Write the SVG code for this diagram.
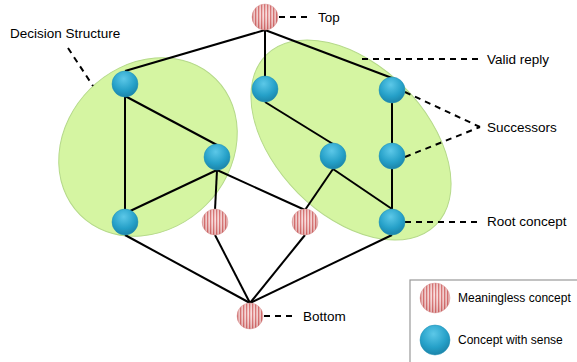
<svg xmlns="http://www.w3.org/2000/svg" width="577" height="362" viewBox="0 0 577 362">
<defs>
<radialGradient id="blue" cx="0.45" cy="0.3" r="0.75">
<stop offset="0" stop-color="#5cc8e8"/>
<stop offset="0.6" stop-color="#25a0c8"/>
<stop offset="1" stop-color="#1a7fa3"/>
</radialGradient>
<pattern id="stripes" patternUnits="userSpaceOnUse" width="3" height="4">
<rect width="3" height="4" fill="#f9dada"/>
<rect width="1.3" height="4" fill="#d86a6a"/>
</pattern>
<radialGradient id="pinkShade" cx="0.5" cy="0.4" r="0.6">
<stop offset="0" stop-color="#ffffff" stop-opacity="0.15"/>
<stop offset="1" stop-color="#a04040" stop-opacity="0.25"/>
</radialGradient>
</defs>
<style>
.ell{fill:#d5f5a2;stroke:#b5d98a;stroke-width:1}
.edge{stroke:#000;stroke-width:2;fill:none}
.dash{stroke:#000;stroke-width:2;stroke-dasharray:6,5;fill:none}
.cs{fill:url(#blue);stroke:#1f8fb5;stroke-width:0.5}
.ml{fill:url(#stripes);stroke:#e0a0a0;stroke-width:0.5}
.mlsh{fill:url(#pinkShade)}
.lbl{font-family:"Liberation Sans",Arial,sans-serif;font-size:13.5px;fill:#000}
.leg{font-family:"Liberation Sans",Arial,sans-serif;font-size:12px;fill:#000}
</style>
<g id="groups">
<ellipse class="ell" cx="148" cy="147" rx="96" ry="82" transform="rotate(-45 148 147)"/>
<ellipse class="ell" cx="351" cy="140" rx="120" ry="75" transform="rotate(45 351 140)"/>
</g>
<g id="connectors">
<line class="edge" x1="265" y1="30" x2="125" y2="71"/>
<line class="edge" x1="265" y1="30" x2="265" y2="77"/>
<line class="edge" x1="265" y1="30" x2="392" y2="78"/>
<line class="edge" x1="125" y1="96" x2="125" y2="209"/>
<line class="edge" x1="125" y1="96" x2="217" y2="145"/>
<line class="edge" x1="217" y1="170" x2="128" y2="212"/>
<line class="edge" x1="217" y1="170" x2="215" y2="210"/>
<line class="edge" x1="217" y1="170" x2="305" y2="210"/>
<line class="edge" x1="265" y1="102" x2="333" y2="144"/>
<line class="edge" x1="333" y1="169" x2="305" y2="210"/>
<line class="edge" x1="333" y1="169" x2="392" y2="209"/>
<line class="edge" x1="392" y1="103" x2="392" y2="143"/>
<line class="edge" x1="392" y1="169" x2="392" y2="209"/>
<line class="edge" x1="125" y1="235" x2="250" y2="303"/>
<line class="edge" x1="215" y1="235" x2="250" y2="303"/>
<line class="edge" x1="305" y1="235" x2="250" y2="303"/>
<line class="edge" x1="392" y1="235" x2="250" y2="303"/>
</g>
<g id="callouts">
<line class="dash" x1="279" y1="17" x2="312" y2="17"/>
<line class="dash" x1="264" y1="316" x2="296" y2="316"/>
<line class="dash" x1="68" y1="48" x2="93" y2="86"/>
<line class="dash" x1="362" y1="59" x2="480" y2="59"/>
<line class="dash" x1="405" y1="92" x2="480" y2="127"/>
<line class="dash" x1="405" y1="157" x2="480" y2="127"/>
<line class="dash" x1="405" y1="222" x2="480" y2="222"/>
</g>
<g id="node-top"><circle class="ml" cx="265" cy="17" r="13"/><circle class="mlsh" cx="265" cy="17" r="13"/><text class="lbl" x="318" y="22">Top</text></g>
<g id="node-a"><circle class="cs" cx="125" cy="84" r="13"/></g>
<g id="node-b"><circle class="cs" cx="217" cy="157" r="13"/></g>
<g id="node-c"><circle class="cs" cx="125" cy="222" r="13"/></g>
<g id="node-d"><circle class="cs" cx="265" cy="89" r="13"/></g>
<g id="node-e"><circle class="cs" cx="392" cy="90" r="13"/></g>
<g id="node-f"><circle class="cs" cx="333" cy="156" r="13"/></g>
<g id="node-g"><circle class="cs" cx="392" cy="156" r="13"/></g>
<g id="node-h"><circle class="cs" cx="392" cy="222" r="13"/></g>
<g id="node-p1"><circle class="ml" cx="215" cy="222" r="13"/><circle class="mlsh" cx="215" cy="222" r="13"/></g>
<g id="node-p2"><circle class="ml" cx="305" cy="222" r="13"/><circle class="mlsh" cx="305" cy="222" r="13"/></g>
<g id="node-bottom"><circle class="ml" cx="250" cy="316" r="13"/><circle class="mlsh" cx="250" cy="316" r="13"/><text class="lbl" x="303" y="321">Bottom</text></g>
<g id="labels">
<text class="lbl" x="10" y="38">Decision Structure</text>
<text class="lbl" x="487" y="64">Valid reply</text>
<text class="lbl" x="487" y="132">Successors</text>
<text class="lbl" x="487" y="226">Root concept</text>
</g>
<g id="legend">
<rect x="410" y="280" width="180" height="100" fill="#fff" stroke="#999" stroke-width="1.2"/>
<circle class="ml" cx="435" cy="298" r="15"/><circle class="mlsh" cx="435" cy="298" r="15"/>
<text class="leg" x="458" y="302">Meaningless concept</text>
<circle class="cs" cx="435" cy="340" r="15"/>
<text class="leg" x="458" y="344">Concept with sense</text>
</g>
</svg>
